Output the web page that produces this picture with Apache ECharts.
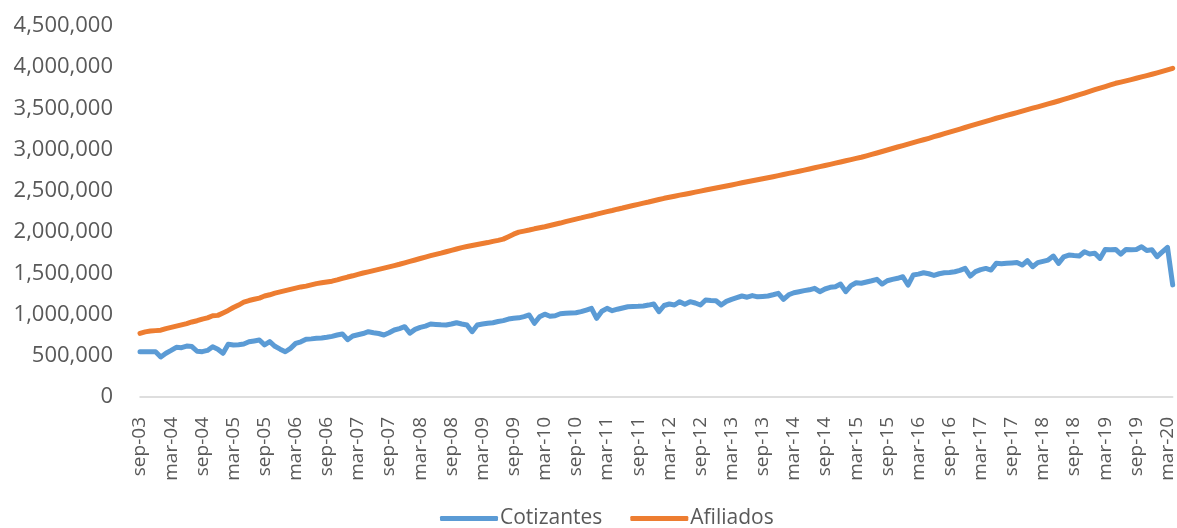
<!DOCTYPE html>
<html>
<head>
<meta charset="utf-8">
<script src="https://cdn.jsdelivr.net/npm/echarts@6/dist/echarts.min.js"></script>
<style>
    html, body { margin: 0; padding: 0; background: #fff; }
    #chart { width: 1177px; height: 528px; }
</style>
</head>
<body>
<div id="chart"></div>
<script>
// meses sep-03 .. abr-20 (una etiqueta cada 6 meses)
var monthNames = ['ene','feb','mar','abr','may','jun','jul','ago','sep','oct','nov','dic'];
var startYear = 2003, startMonth = 8, monthCount = 200;

// valores en miles de personas
var cotizantes = [
    549,549,548,548,485,530,565,603,598,618,612,555,550,565,610,580,530,640,630,635,
    643,670,680,691,632,671,615,580,549,590,650,670,700,705,712,715,724,735,752,765,
    695,740,755,770,792,780,770,752,780,813,830,853,775,820,845,860,885,880,875,873,
    885,901,885,873,792,873,885,895,901,915,926,945,954,960,975,995,894,974,1005,980,
    985,1010,1015,1018,1022,1035,1055,1075,954,1040,1075,1047,1065,1080,1095,1098,1100,1104,1115,1128,
    1035,1110,1128,1116,1156,1125,1156,1140,1116,1176,1170,1168,1116,1160,1185,1205,1225,1210,1230,1215,
    1220,1225,1240,1257,1185,1240,1265,1277,1290,1300,1318,1277,1310,1330,1338,1370,1277,1350,1386,1380,
    1395,1410,1427,1370,1410,1427,1440,1459,1358,1479,1490,1507,1495,1475,1495,1507,1510,1519,1535,1560,
    1467,1520,1545,1560,1540,1621,1615,1621,1625,1630,1600,1653,1580,1630,1645,1661,1710,1621,1700,1722,
    1715,1710,1762,1735,1745,1681,1790,1785,1790,1734,1790,1785,1790,1823,1778,1785,1702,1760,1815,1360
];
var afiliados = [
    772,790,800,805,810,830,845,860,875,890,910,925,945,960,985,990,1020,1050,1085,1115,
    1150,1170,1185,1200,1225,1240,1260,1275,1290,1305,1320,1335,1345,1360,1375,1385,1395,1405,1420,1438,
    1455,1470,1487,1504,1518,1533,1548,1563,1578,1594,1610,1628,1645,1662,1680,1697,1714,1730,1745,1762,
    1778,1795,1812,1825,1838,1850,1862,1873,1888,1900,1915,1945,1975,2000,2012,2025,2040,2052,2065,2080,
    2095,2110,2127,2142,2158,2172,2188,2202,2218,2233,2248,2262,2278,2292,2308,2322,2337,2352,2365,2380,
    2395,2410,2422,2435,2448,2460,2472,2485,2497,2510,2522,2535,2547,2560,2572,2585,2598,2610,2622,2635,
    2648,2660,2672,2685,2698,2712,2725,2738,2752,2766,2780,2794,2808,2822,2837,2851,2865,2880,2894,2908,
    2925,2943,2960,2978,2996,3014,3032,3050,3068,3086,3103,3120,3138,3157,3175,3194,3213,3232,3250,3269,
    3288,3306,3325,3344,3362,3381,3398,3416,3433,3450,3468,3486,3503,3520,3538,3555,3572,3590,3609,3628,
    3648,3668,3687,3707,3727,3746,3766,3785,3805,3820,3835,3850,3866,3882,3898,3915,3932,3950,3968,3987
];
var yTicks = [0,500000,1000000,1500000,2000000,2500000,3000000,3500000,4000000,4500000];

var categories = [];
for (var i = 0; i < monthCount; i++) {
    var m = (startMonth + i) % 12;
    var y = startYear + Math.floor((startMonth + i) / 12);
    categories.push(monthNames[m] + '-' + String(y).substr(2));
}
var toUnits = function (arr) {
    return arr.map(function (v) { return v * 1000; });
};

var FONT = '"Open Sans", "Noto Sans", sans-serif';
var chart = echarts.init(document.getElementById('chart'));
var option = {
    animation: false,
    backgroundColor: '#ffffff',
    color: ['#5b9bd5', '#ed7d31'],
    grid: { left: 140, right: 2, top: 26, bottom: 131 },
    legend: {
        left: 435,
        top: 503,
        icon: 'roundRect',
        itemWidth: 58,
        itemHeight: 5,
        itemGap: 28,
        textStyle: { fontFamily: FONT, fontSize: 21, color: '#595959', padding: [0, 0, 0, -3] },
        data: ['Cotizantes', 'Afiliados']
    },
    xAxis: {
        type: 'category',
        boundaryGap: false,
        data: categories,
        axisLine: { lineStyle: { color: '#d4d4d4', width: 1.5 } },
        axisTick: { show: false },
        axisLabel: {
            interval: 5,
            rotate: 90,
            margin: 20,
            fontFamily: FONT,
            fontSize: 19,
            color: '#595959'
        }
    },
    yAxis: {
        type: 'value',
        min: yTicks[0],
        max: yTicks[yTicks.length - 1],
        interval: 500000,
        splitLine: { show: false },
        axisLine: { show: false },
        axisTick: { show: false },
        axisLabel: {
            margin: 27,
            fontFamily: FONT,
            fontSize: 22,
            color: '#595959',
            formatter: function (v) { return v.toLocaleString('en-US'); }
        }
    },
    series: [
        {
            name: 'Cotizantes',
            type: 'line',
            showSymbol: false,
            data: toUnits(cotizantes),
            lineStyle: { width: 5, cap: 'round', join: 'round' }
        },
        {
            name: 'Afiliados',
            type: 'line',
            showSymbol: false,
            data: toUnits(afiliados),
            lineStyle: { width: 5, cap: 'round', join: 'round' }
        }
    ]
};
chart.setOption(option);
</script>
</body>
</html>
